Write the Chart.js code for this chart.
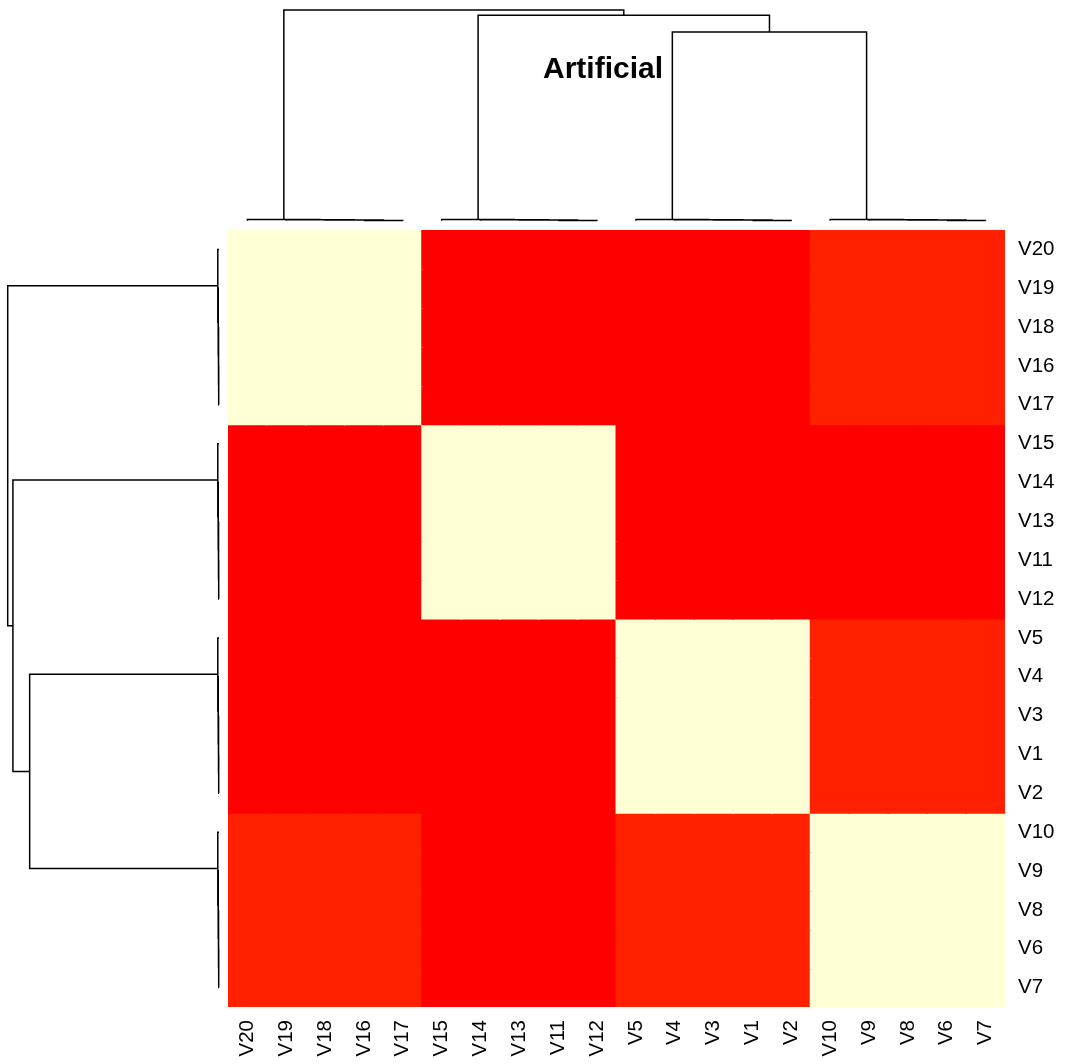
<!DOCTYPE html>
<html>
<head>
<meta charset="utf-8">
<title>Artificial</title>
<script src="https://cdn.jsdelivr.net/npm/chart.js@4.4.1/dist/chart.umd.min.js"></script>
<style>
    body { margin: 0; background: #fff; }
    #wrap { position: relative; width: 1065px; height: 1064px; overflow: hidden; background: #fff; }
    canvas { position: absolute; }
    #title {
        position: absolute; left: 453px; top: 53px; width: 300px;
        text-align: center; font: bold 30px "Liberation Sans", Arial, sans-serif;
        line-height: 29px; color: #000;
    }
</style>
</head>
<body>
<div id="wrap">
    <canvas id="colDendro" width="777" height="230" style="left:228px;top:0px"></canvas>
    <canvas id="rowDendro" width="228" height="777" style="left:0px;top:230px"></canvas>
    <canvas id="heat" width="837" height="834" style="left:228px;top:230px"></canvas>
    <div id="title">Artificial</div>
</div>
<script>
"use strict";

//region Data
// leaf order, left to right (columns) and top to bottom (rows)
const leafOrder = ["V20","V19","V18","V16","V17","V15","V14","V13","V11","V12",
                   "V5","V4","V3","V1","V2","V10","V9","V8","V6","V7"];
// cluster of each leaf (0..3), same order as leafOrder
const leafGroup = [0,0,0,0,0, 1,1,1,1,1, 2,2,2,2,2, 3,3,3,3,3];
// value between two clusters (symmetric)
const blockValues = [
    [1.00, 0.00, 0.00, 0.094],
    [0.00, 1.00, 0.00, 0.00],
    [0.00, 0.00, 1.00, 0.094],
    [0.094, 0.00, 0.094, 1.00]
];
// hclust style merges: negative = leaf position (1-based), positive = earlier merge
const mergeLeft   = [-4, -3, -2, -1,  -9, -8, -7, -6, -14, -13, -12, -11, -19, -18, -17, -16, 12,  8,  4];
const mergeRight  = [-5,  1,  2,  3, -10,  5,  6,  7, -15,   9,  10,  11, -20,  13,  14,  15, 16, 17, 18];
const mergeHeight = [0.003, 0.006, 0.009, 0.012, 0.003, 0.006, 0.009, 0.012,
                     0.003, 0.006, 0.009, 0.012, 0.003, 0.006, 0.009, 0.012,
                     1.888, 2.055, 2.107];
//endregion

//region Helpers
const valueMin = 0;
const valueMax = 1;
const paleSat = 0.165;

function heatColor(v) {
    // red -> yellow for the first 3/4, yellow -> pale for the last quarter
    let t = (v - valueMin) / (valueMax - valueMin);
    if (t <= 0.75) {
        let g = Math.round(255 * t / 0.75);
        return "rgb(255," + g + ",0)";
    }
    let s = 1 - (t - 0.75) / 0.25 * (1 - paleSat);
    let b = Math.round(255 * (1 - s));
    return "rgb(255,255," + b + ")";
}

function cellValue(r, c) {
    return blockValues[leafGroup[r]][leafGroup[c]];
}

// returns a list of {pos, h} points, with null gaps between the merge links
function dendroPoints() {
    let nodePos = [];
    let pts = [];
    function child(c) {
        if (c < 0) return { pos: -c, h: 0 };
        return { pos: nodePos[c - 1], h: mergeHeight[c - 1] };
    }
    for (let i = 0; i < mergeHeight.length; i++) {
        let l = child(mergeLeft[i]);
        let r = child(mergeRight[i]);
        let h = mergeHeight[i];
        nodePos.push((l.pos + r.pos) / 2);
        pts.push({ pos: l.pos, h: l.h }, { pos: l.pos, h: h }, { pos: r.pos, h: h }, { pos: r.pos, h: r.h }, null);
    }
    return pts;
}

const baseOptions = {
    responsive: false,
    animation: false,
    events: [],
    plugins: { legend: { display: false }, tooltip: { enabled: false }, title: { display: false } }
};

function noPadding(s) {
    s.paddingTop = 0;
    s.paddingBottom = 0;
    s.paddingLeft = 0;
    s.paddingRight = 0;
}
//endregion

//region Main
const rootHeight = Math.max.apply(null, mergeHeight);
const dPts = dendroPoints();

// column dendrogram (top)
new Chart(document.getElementById("colDendro"), {
    type: "scatter",
    data: {
        datasets: [{
            data: dPts.map(p => p ? { x: p.pos, y: p.h } : { x: NaN, y: NaN }),
            showLine: true, spanGaps: false, pointRadius: 0,
            borderColor: "#000", borderWidth: 1.5, clip: false
        }]
    },
    options: Object.assign({}, baseOptions, {
        layout: { padding: { top: 10, bottom: 9.3, left: 0, right: 0 } },
        scales: {
            x: { type: "linear", display: false, min: 0.5, max: leafOrder.length + 0.5 },
            y: { type: "linear", display: false, min: 0, max: rootHeight }
        }
    })
});

// row dendrogram (left)
new Chart(document.getElementById("rowDendro"), {
    type: "scatter",
    data: {
        datasets: [{
            data: dPts.map(p => p ? { x: p.h, y: p.pos } : { x: NaN, y: NaN }),
            showLine: true, spanGaps: false, pointRadius: 0,
            borderColor: "#000", borderWidth: 1.5, clip: false
        }]
    },
    options: Object.assign({}, baseOptions, {
        layout: { padding: { top: 0, bottom: 0, left: 7.7, right: 9 } },
        scales: {
            x: { type: "linear", display: false, min: 0, max: rootHeight, reverse: true },
            y: { type: "linear", display: false, min: 0.5, max: leafOrder.length + 0.5, reverse: true }
        }
    })
});

// heatmap: one stacked bar dataset per row
let heatSets = leafOrder.map(function (rowName, r) {
    return {
        label: rowName,
        data: leafOrder.map(() => 1),
        backgroundColor: leafOrder.map((colName, c) => heatColor(cellValue(r, c))),
        borderWidth: 0,
        inflateAmount: 1,
        barPercentage: 1,
        categoryPercentage: 1,
        stack: "cells"
    };
});

const labelFont = { family: "'Liberation Sans', Arial, sans-serif", size: 20.5 };

new Chart(document.getElementById("heat"), {
    type: "bar",
    data: { labels: leafOrder, datasets: heatSets },
    options: Object.assign({}, baseOptions, {
        layout: { padding: 0 },
        scales: {
            x: {
                type: "category", position: "bottom", stacked: true,
                grid: { display: false, drawTicks: false }, border: { display: false },
                ticks: { autoSkip: false, minRotation: 90, maxRotation: 90, padding: 13, color: "#000", font: labelFont },
                afterFit: function (s) { noPadding(s); s.height = 57; }
            },
            y: { type: "linear", display: false, stacked: true, min: 0, max: leafOrder.length, reverse: true },
            yLab: {
                type: "category", position: "right", labels: leafOrder, offset: true,
                grid: { display: false, drawTicks: false }, border: { display: false },
                ticks: { autoSkip: false, padding: 13, color: "#000", font: labelFont },
                afterFit: function (s) { noPadding(s); s.width = 60; }
            }
        }
    })
});
//endregion
</script>
</body>
</html>
